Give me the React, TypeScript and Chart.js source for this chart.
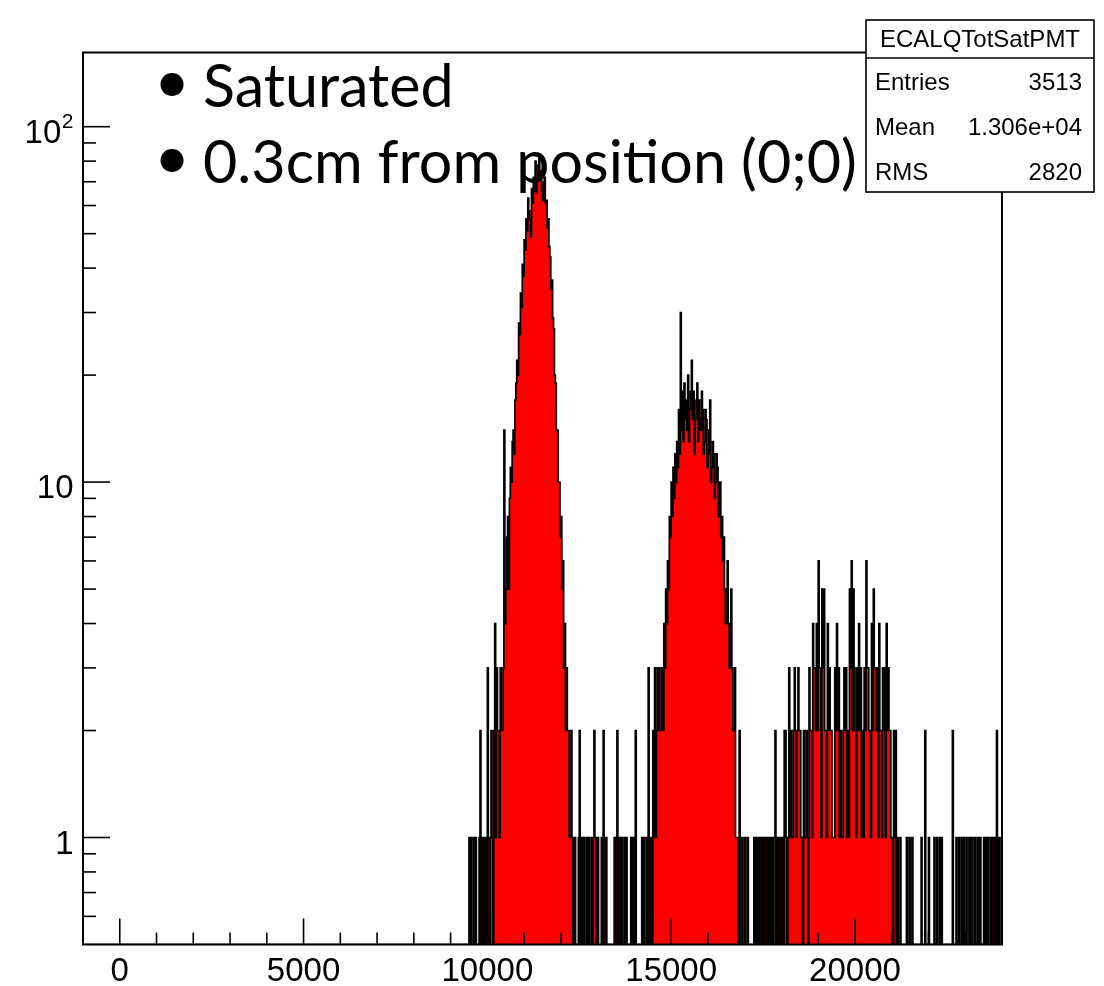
import React, { useEffect, useRef } from 'react';
import { Chart, registerables } from 'chart.js';

Chart.register(...registerables);

// ---- axis ranges / ticks ----
const X_MIN = -1000;
const X_MAX = 24000;
const BIN_WIDTH = 25;
const Y_MIN = 0.5;
const Y_MAX = 161.7;
const X_MAJOR_STEP = 5000;
const X_MINOR_STEP = 1000;
const xTickValues = [0, 5000, 10000, 15000, 20000];
const xTickLabels = ['0', '5000', '10000', '15000', '20000'];
const yTickValues = [1, 10, 100];
const yTickBases = ['1', '10', '10'];
const yTickExps = ['', '', '2'];

// ---- histogram contents (bin width 25) ----
const leadStart = 9450;
const leadCounts = [
  0, 0, 1, 0, 1, 0, 0, 1, 0, 1,
  0, 0, 0, 1, 2, 0, 1, 0, 1, 0,
  1, 0, 3, 1, 0, 1, 2, 1, 0, 2,
  4, 1, 3, 2,
];

const peak1Start = 10300;
const peak1Counts = [
  2, 1, 3, 2, 2, 3, 14, 4, 5, 7,
  8, 5, 9, 11, 10, 13, 14, 12, 17, 19,
  22, 20, 28, 26, 34, 31, 41, 38, 48, 45,
  55, 51, 63, 58, 55, 49, 67, 61, 72, 66,
  80, 65, 70, 78, 83, 71, 75, 66, 62, 70,
  72, 61, 62, 52, 55, 46, 43, 35, 37, 29,
  27, 20, 19, 14, 14, 10, 10, 7, 8, 5,
  6, 3, 4, 2, 3, 2, 2, 1, 1, 2,
];

const gap1Start = 12300;
const gap1Counts = [
  1, 0, 1, 1, 0, 0, 0, 1, 2, 0,
  1, 0, 1, 1, 0, 0, 1, 0, 1, 0,
  0, 1, 0, 1, 2, 1, 0, 1, 1, 0,
  0, 0, 1, 0, 2, 1, 0, 1, 0, 0,
  0, 0, 0, 0, 0, 0, 1, 0, 1, 2,
  0, 1, 1, 0, 1, 0, 0, 1, 0, 1,
  0, 0, 0, 0, 1, 0, 1, 1, 0, 2,
  0, 0, 0, 0, 0, 0, 1, 0, 1, 0,
  0, 1, 0, 3, 1, 0,
];

const peak2Start = 14450;
const peak2Counts = [
  1, 0, 2, 1, 3, 1, 2, 3, 3, 2,
  2, 3, 3, 2, 4, 3, 5, 4, 6, 5,
  8, 7, 10, 8, 11, 9, 12, 10, 13, 11,
  16, 12, 30, 14, 18, 13, 19, 15, 17, 14,
  20, 13, 16, 18, 22, 15, 18, 12, 15, 17,
  19, 13, 17, 15, 14, 18, 16, 12, 13, 16,
  15, 11, 12, 14, 17, 10, 11, 13, 12, 9,
  10, 12, 11, 8, 9, 10, 7, 8, 6, 7,
  5, 4, 5, 6, 4, 3, 4, 5, 3, 2,
  2, 3, 1, 1,
];

const gap2Start = 16800;
const gap2Counts = [
  1, 0, 2, 0, 0, 1, 0, 0, 1, 0,
  0, 1, 0, 0, 0, 0, 0, 0, 1, 0,
  1, 0, 1, 0, 1, 1, 0, 1, 0, 1,
  0, 1, 1, 0, 1, 0, 1, 0, 1, 0,
  0, 2, 1, 0, 1, 0, 1, 1, 0, 1,
  0, 2,
];

const peak3Start = 18100;
const peak3Counts = [
  2, 1, 0, 1, 3, 1, 2, 1, 1, 2, 3, 2, 1, 2, 3, 2, 2, 1, 1, 0,
  2, 1, 1, 2, 1, 0, 3, 2, 2, 1, 4, 3, 3, 2, 4, 2, 6, 3, 3, 1,
  5, 3, 5, 2, 2, 1, 4, 2, 3, 2, 2, 1, 1, 1, 3, 2, 4, 2, 3, 1,
  2, 1, 1, 2, 3, 2, 3, 1, 2, 1, 5, 3, 6, 2, 5, 3, 2, 1, 3, 2,
  4, 2, 3, 1, 2, 1, 3, 2, 6, 3, 3, 2, 2, 1, 4, 2, 5, 3, 3, 2,
  3, 1, 4, 2, 2, 1, 3, 2, 3, 1, 4, 2, 3, 2, 2, 1, 1, 0, 2, 1,
];

const tailStart = 21100;
const tailCounts = [
  2, 0, 1, 0, 0, 1, 0, 0, 0, 0, 0, 0, 1, 0, 0, 1, 0, 0, 1, 0,
  0, 0, 0, 0, 0, 0, 0, 0, 1, 0, 0, 0, 2, 0, 0, 0, 1, 0, 0, 0,
  0, 0, 1, 0, 0, 1, 0, 0, 1, 0, 1, 0, 0, 0, 0, 0, 0, 0, 0, 0,
  0, 0, 2, 0, 0, 0, 1, 0, 0, 1, 0, 0, 1, 0, 1, 0, 0, 1, 0, 0,
  1, 0, 1, 1, 0, 0, 1, 0, 0, 1, 0, 1, 1, 0, 0, 0, 1, 0, 1, 0,
  1, 0, 0, 1, 0, 1, 1, 0, 1, 0, 2, 0, 1, 0, 0, 1,
];

// ---- text ----
const histName = 'ECALQTotSatPMT';
const statLabels = ['Entries', 'Mean', 'RMS'];
const statValues = ['3513', '1.306e+04', '2820'];
const noteLines = ['Saturated', '0.3cm from position (0;0)'];

const segments = [
  { start: leadStart, counts: leadCounts },
  { start: peak1Start, counts: peak1Counts },
  { start: gap1Start, counts: gap1Counts },
  { start: peak2Start, counts: peak2Counts },
  { start: gap2Start, counts: gap2Counts },
  { start: peak3Start, counts: peak3Counts },
  { start: tailStart, counts: tailCounts },
];

function buildPoints() {
  const pts: { x: number; y: number }[] = [];
  pts.push({ x: X_MIN, y: Y_MIN });
  segments.forEach((s) => {
    s.counts.forEach((c, i) => {
      pts.push({ x: s.start + i * BIN_WIDTH, y: c > 0 ? c : Y_MIN });
    });
  });
  pts.push({ x: X_MAX, y: Y_MIN });
  return pts;
}

const AXIS_FONT = '"Liberation Sans", Arial, Helvetica, sans-serif';
const NOTE_FONT = 'Lato, "Open Sans", sans-serif';

const rootPlugin = {
  id: 'rootStyle',
  afterDatasetsDraw(chart: any) {
    const { ctx, chartArea: a, scales } = chart;
    const xs = scales.x;
    const ys = scales.y;
    ctx.save();
    ctx.strokeStyle = '#000';
    ctx.fillStyle = '#000';

    // frame
    ctx.lineWidth = 2;
    ctx.strokeRect(a.left, a.top, a.right - a.left, a.bottom - a.top);

    // x ticks (inward)
    ctx.lineWidth = 1.6;
    for (let v = X_MIN + X_MINOR_STEP; v < X_MAX; v += X_MINOR_STEP) {
      const px = xs.getPixelForValue(v);
      const len = v % X_MAJOR_STEP === 0 ? 26 : 12;
      ctx.beginPath();
      ctx.moveTo(px, a.bottom);
      ctx.lineTo(px, a.bottom - len);
      ctx.stroke();
    }
    // y ticks (inward)
    [0.1, 1, 10, 100].forEach((d) => {
      for (let k = 1; k <= 9; k++) {
        const v = k * d;
        if (v <= Y_MIN || v >= Y_MAX) continue;
        const py = ys.getPixelForValue(v);
        const len = k === 1 ? 27 : 13;
        ctx.beginPath();
        ctx.moveTo(a.left, py);
        ctx.lineTo(a.left + len, py);
        ctx.stroke();
      }
    });

    // x labels
    ctx.font = `33px ${AXIS_FONT}`;
    ctx.textAlign = 'center';
    ctx.textBaseline = 'alphabetic';
    xTickValues.forEach((v, i) => {
      ctx.fillText(xTickLabels[i], xs.getPixelForValue(v), a.bottom + 36.5);
    });
    // y labels
    const yRight = a.left - 9.5;
    yTickValues.forEach((v, i) => {
      const py = ys.getPixelForValue(v);
      ctx.textAlign = 'right';
      if (yTickExps[i]) {
        ctx.font = `21px ${AXIS_FONT}`;
        const ew = ctx.measureText(yTickExps[i]).width;
        ctx.fillText(yTickExps[i], yRight, py + 1.5);
        ctx.font = `33px ${AXIS_FONT}`;
        ctx.fillText(yTickBases[i], yRight - ew - 0.5, py + 16.5);
      } else {
        ctx.font = `33px ${AXIS_FONT}`;
        ctx.fillText(yTickBases[i], yRight, py + 16);
      }
    });

    // annotation text (bullets)
    ctx.textAlign = 'left';
    ctx.font = `100px ${NOTE_FONT}`;
    const w100 = ctx.measureText(noteLines[1]).width;
    const noteSize = (100 * 654) / w100;
    const noteBaselines = [107, 183];
    noteLines.forEach((t, i) => {
      ctx.font = `${noteSize}px ${NOTE_FONT}`;
      ctx.textAlign = 'left';
      ctx.fillText(t, 203, noteBaselines[i]);
      ctx.font = `${noteSize * 1.05}px ${NOTE_FONT}`;
      ctx.textAlign = 'center';
      ctx.fillText('\u2022', 172, noteBaselines[i] - 4);
    });

    // stats box
    const bx = 866, by = 20, bw = 228, bh = 172;
    ctx.fillStyle = '#fff';
    ctx.fillRect(bx, by, bw, bh);
    ctx.fillStyle = '#000';
    ctx.lineWidth = 1.6;
    ctx.strokeRect(bx, by, bw, bh);
    ctx.beginPath();
    ctx.moveTo(bx, 58);
    ctx.lineTo(bx + bw, 58);
    ctx.stroke();
    ctx.font = `24px ${AXIS_FONT}`;
    ctx.textAlign = 'center';
    ctx.fillText(histName, bx + bw / 2, 46.5);
    const rowBase = [90, 135, 179.5];
    statLabels.forEach((l, i) => {
      ctx.textAlign = 'left';
      ctx.fillText(l, 875, rowBase[i]);
      ctx.textAlign = 'right';
      ctx.fillText(statValues[i], 1082, rowBase[i]);
    });

    ctx.restore();
  },
};

export default function App() {
  const ref = useRef<HTMLCanvasElement>(null);
  useEffect(() => {
    const canvas = ref.current;
    if (!canvas) return;
    const chart = new Chart(canvas, {
      type: 'line',
      data: {
        datasets: [
          {
            data: buildPoints(),
            stepped: 'before',
            borderColor: '#000000',
            borderWidth: 1.7,
            backgroundColor: '#ff0000',
            fill: 'start',
            pointRadius: 0,
            tension: 0,
          },
        ],
      },
      options: {
        responsive: false,
        animation: false,
        devicePixelRatio: 1,
        events: [],
        layout: { padding: { left: 83, top: 52.5, right: 102, bottom: 41.5 } },
        plugins: {
          legend: { display: false },
          tooltip: { enabled: false },
          title: { display: false },
        },
        scales: {
          x: { type: 'linear', min: X_MIN, max: X_MAX, display: false },
          y: { type: 'logarithmic', min: Y_MIN, max: Y_MAX, display: false },
        },
      } as any,
      plugins: [rootPlugin],
    });
    return () => chart.destroy();
  }, []);
  return (
    <div style={{ position: 'absolute', left: 0, top: 0, width: 1104, height: 986, background: '#fff' }}>
      <canvas ref={ref} width={1104} height={986} style={{ display: 'block', width: 1104, height: 986 }} />
    </div>
  );
}
